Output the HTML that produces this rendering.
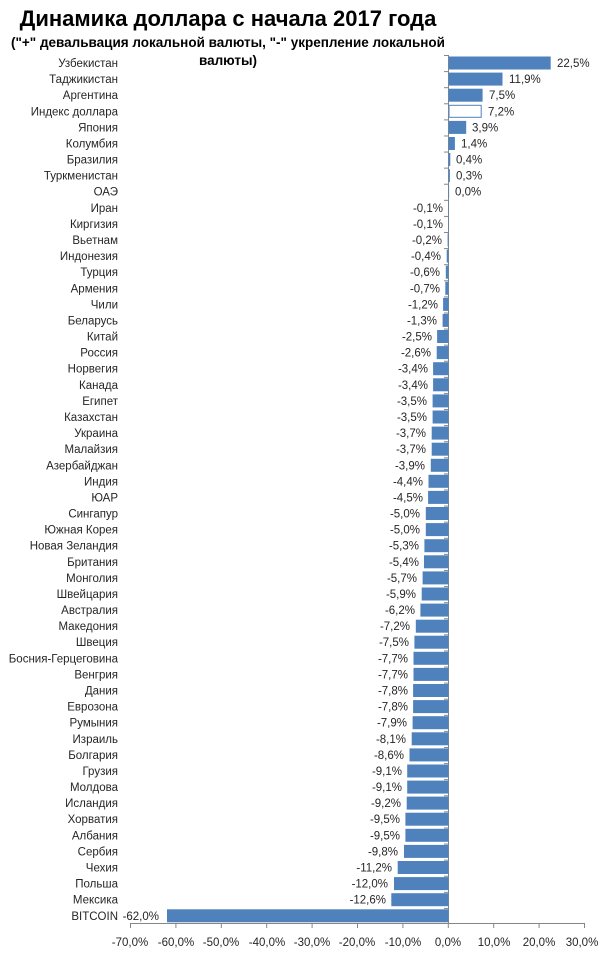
<!DOCTYPE html>
<html><head><meta charset="utf-8"><style>
body{margin:0;background:#fff}
svg{display:block}
text{font-family:"Liberation Sans",sans-serif;fill:#262626}
.c{font-size:11.5px;text-anchor:end}
.v{font-size:11.5px}
.n{font-size:11.5px;text-anchor:end}
.t{font-size:11.5px;text-anchor:middle}
rect.b{fill:#4f81bd}
</style></head><body>
<svg width="610" height="954" xmlns="http://www.w3.org/2000/svg">
<defs><pattern id="tk" patternUnits="userSpaceOnUse" x="0" y="55" width="10" height="16.093"><rect x="0" y="0" width="10" height="1" fill="#868686"/></pattern></defs>
<text x="228" y="26" style="font-size:22px;font-weight:bold;text-anchor:middle;fill:#000">Динамика доллара с начала 2017 года</text>
<text x="228" y="47" style="font-size:13.5px;font-weight:bold;text-anchor:middle;fill:#000">("+" девальвация локальной валюты, "-" укрепление локальной</text>
<text x="228" y="65" style="font-size:13.5px;font-weight:bold;text-anchor:middle;fill:#000">валюты)</text>
<rect x="444" y="55" width="4" height="868" fill="url(#tk)"/>
<g stroke="#868686" stroke-width="1">
<line x1="448.5" y1="55" x2="448.5" y2="923"/>
<line x1="130" y1="923.5" x2="584" y2="923.5"/>
<line x1="130.5" y1="923" x2="130.5" y2="928"/><line x1="175.9" y1="923" x2="175.9" y2="928"/><line x1="221.3" y1="923" x2="221.3" y2="928"/><line x1="266.7" y1="923" x2="266.7" y2="928"/><line x1="312.1" y1="923" x2="312.1" y2="928"/><line x1="357.5" y1="923" x2="357.5" y2="928"/><line x1="402.9" y1="923" x2="402.9" y2="928"/><line x1="448.3" y1="923" x2="448.3" y2="928"/><line x1="493.7" y1="923" x2="493.7" y2="928"/><line x1="539.1" y1="923" x2="539.1" y2="928"/><line x1="584.5" y1="923" x2="584.5" y2="928"/>
</g>
<g>
<text class="t" x="130" y="946">-70,0%</text><text class="t" x="176" y="946">-60,0%</text><text class="t" x="221" y="946">-50,0%</text><text class="t" x="267" y="946">-40,0%</text><text class="t" x="312" y="946">-30,0%</text><text class="t" x="357" y="946">-20,0%</text><text class="t" x="403" y="946">-10,0%</text><text class="t" x="448" y="946">0,0%</text><text class="t" x="494" y="946">10,0%</text><text class="t" x="539" y="946">20,0%</text><text class="t" x="582" y="946">30,0%</text>
</g>
<g>
<rect class="b" x="448.5" y="56.5" width="102.2" height="13"/><rect class="b" x="448.5" y="72.6" width="54" height="13"/><rect class="b" x="448.5" y="88.7" width="34.1" height="13"/><rect x="449" y="105.3" width="32.2" height="12" fill="#fff" stroke="#4f81bd"/><rect class="b" x="448.5" y="120.9" width="17.7" height="13"/><rect class="b" x="448.5" y="137" width="6.4" height="13"/><rect class="b" x="448.5" y="153" width="1.8" height="13"/><rect class="b" x="448.5" y="169.1" width="1.4" height="13"/><rect class="b" x="448.5" y="185.2" width="0.6" height="13"/>
<rect class="b" x="448" y="201.3" width="0.5" height="13"/><rect class="b" x="448" y="217.4" width="0.5" height="13"/><rect class="b" x="447.6" y="233.5" width="0.9" height="13"/><rect class="b" x="446.7" y="249.6" width="1.8" height="13"/><rect class="b" x="445.8" y="265.7" width="2.7" height="13"/><rect class="b" x="445.3" y="281.8" width="3.2" height="13"/><rect class="b" x="443.1" y="297.9" width="5.4" height="13"/><rect class="b" x="442.6" y="313.9" width="5.9" height="13"/><rect class="b" x="437.1" y="330" width="11.4" height="13"/><rect class="b" x="436.7" y="346.1" width="11.8" height="13"/><rect class="b" x="433.1" y="362.2" width="15.4" height="13"/><rect class="b" x="433.1" y="378.3" width="15.4" height="13"/><rect class="b" x="432.6" y="394.4" width="15.9" height="13"/><rect class="b" x="432.6" y="410.5" width="15.9" height="13"/><rect class="b" x="431.7" y="426.6" width="16.8" height="13"/><rect class="b" x="431.7" y="442.7" width="16.8" height="13"/><rect class="b" x="430.8" y="458.8" width="17.7" height="13"/><rect class="b" x="428.5" y="474.8" width="20" height="13"/><rect class="b" x="428.1" y="490.9" width="20.4" height="13"/><rect class="b" x="425.8" y="507" width="22.7" height="13"/><rect class="b" x="425.8" y="523.1" width="22.7" height="13"/><rect class="b" x="424.4" y="539.2" width="24.1" height="13"/><rect class="b" x="424" y="555.3" width="24.5" height="13"/><rect class="b" x="422.6" y="571.4" width="25.9" height="13"/><rect class="b" x="421.7" y="587.5" width="26.8" height="13"/><rect class="b" x="420.4" y="603.6" width="28.1" height="13"/><rect class="b" x="415.8" y="619.7" width="32.7" height="13"/><rect class="b" x="414.4" y="635.7" width="34.1" height="13"/><rect class="b" x="413.5" y="651.8" width="35" height="13"/><rect class="b" x="413.5" y="667.9" width="35" height="13"/><rect class="b" x="413.1" y="684" width="35.4" height="13"/><rect class="b" x="413.1" y="700.1" width="35.4" height="13"/><rect class="b" x="412.6" y="716.2" width="35.9" height="13"/><rect class="b" x="411.7" y="732.3" width="36.8" height="13"/><rect class="b" x="409.5" y="748.4" width="39" height="13"/><rect class="b" x="407.2" y="764.5" width="41.3" height="13"/><rect class="b" x="407.2" y="780.6" width="41.3" height="13"/><rect class="b" x="406.7" y="796.6" width="41.8" height="13"/><rect class="b" x="405.4" y="812.7" width="43.1" height="13"/><rect class="b" x="405.4" y="828.8" width="43.1" height="13"/><rect class="b" x="404" y="844.9" width="44.5" height="13"/><rect class="b" x="397.7" y="861" width="50.8" height="13"/><rect class="b" x="394" y="877.1" width="54.5" height="13"/><rect class="b" x="391.3" y="893.2" width="57.2" height="13"/><rect class="b" x="167" y="909.3" width="281.5" height="13"/>
</g>
<g>
<text class="v" x="557" y="67">22,5%</text><text class="v" x="509" y="83.1">11,9%</text><text class="v" x="489" y="99.2">7,5%</text><text class="v" x="488" y="115.3">7,2%</text><text class="v" x="472" y="131.4">3,9%</text><text class="v" x="461" y="147.5">1,4%</text><text class="v" x="456" y="163.5">0,4%</text><text class="v" x="456" y="179.6">0,3%</text><text class="v" x="455" y="195.7">0,0%</text>
<text class="n" x="443" y="211.8">-0,1%</text><text class="n" x="443" y="227.9">-0,1%</text><text class="n" x="442" y="244">-0,2%</text><text class="n" x="441" y="260.1">-0,4%</text><text class="n" x="440" y="276.2">-0,6%</text><text class="n" x="440" y="292.3">-0,7%</text><text class="n" x="438" y="308.4">-1,2%</text><text class="n" x="437" y="324.4">-1,3%</text><text class="n" x="432" y="340.5">-2,5%</text><text class="n" x="431" y="356.6">-2,6%</text><text class="n" x="428" y="372.7">-3,4%</text><text class="n" x="428" y="388.8">-3,4%</text><text class="n" x="427" y="404.9">-3,5%</text><text class="n" x="427" y="421">-3,5%</text><text class="n" x="426" y="437.1">-3,7%</text><text class="n" x="426" y="453.2">-3,7%</text><text class="n" x="425" y="469.3">-3,9%</text><text class="n" x="423" y="485.3">-4,4%</text><text class="n" x="423" y="501.4">-4,5%</text><text class="n" x="420" y="517.5">-5,0%</text><text class="n" x="420" y="533.6">-5,0%</text><text class="n" x="419" y="549.7">-5,3%</text><text class="n" x="419" y="565.8">-5,4%</text><text class="n" x="417" y="581.9">-5,7%</text><text class="n" x="416" y="598">-5,9%</text><text class="n" x="415" y="614.1">-6,2%</text><text class="n" x="410" y="630.2">-7,2%</text><text class="n" x="409" y="646.2">-7,5%</text><text class="n" x="408" y="662.3">-7,7%</text><text class="n" x="408" y="678.4">-7,7%</text><text class="n" x="408" y="694.5">-7,8%</text><text class="n" x="408" y="710.6">-7,8%</text><text class="n" x="407" y="726.7">-7,9%</text><text class="n" x="406" y="742.8">-8,1%</text><text class="n" x="404" y="758.9">-8,6%</text><text class="n" x="402" y="775">-9,1%</text><text class="n" x="402" y="791.1">-9,1%</text><text class="n" x="401" y="807.1">-9,2%</text><text class="n" x="400" y="823.2">-9,5%</text><text class="n" x="400" y="839.3">-9,5%</text><text class="n" x="398" y="855.4">-9,8%</text><text class="n" x="392" y="871.5">-11,2%</text><text class="n" x="388" y="887.6">-12,0%</text><text class="n" x="386" y="903.7">-12,6%</text><text class="n" x="159" y="919.8">-62,0%</text>
</g>
<g>
<text class="c" x="118" y="67">Узбекистан</text><text class="c" x="118" y="83.1">Таджикистан</text><text class="c" x="118" y="99.2">Аргентина</text><text class="c" x="118" y="115.3">Индекс доллара</text><text class="c" x="118" y="131.4">Япония</text><text class="c" x="118" y="147.5">Колумбия</text><text class="c" x="118" y="163.5">Бразилия</text><text class="c" x="118" y="179.6">Туркменистан</text><text class="c" x="118" y="195.7">ОАЭ</text><text class="c" x="118" y="211.8">Иран</text><text class="c" x="118" y="227.9">Киргизия</text><text class="c" x="118" y="244">Вьетнам</text><text class="c" x="118" y="260.1">Индонезия</text><text class="c" x="118" y="276.2">Турция</text><text class="c" x="118" y="292.3">Армения</text><text class="c" x="118" y="308.4">Чили</text><text class="c" x="118" y="324.4">Беларусь</text><text class="c" x="118" y="340.5">Китай</text><text class="c" x="118" y="356.6">Россия</text><text class="c" x="118" y="372.7">Норвегия</text><text class="c" x="118" y="388.8">Канада</text><text class="c" x="118" y="404.9">Египет</text><text class="c" x="118" y="421">Казахстан</text><text class="c" x="118" y="437.1">Украина</text><text class="c" x="118" y="453.2">Малайзия</text><text class="c" x="118" y="469.3">Азербайджан</text><text class="c" x="118" y="485.3">Индия</text><text class="c" x="118" y="501.4">ЮАР</text><text class="c" x="118" y="517.5">Сингапур</text><text class="c" x="118" y="533.6">Южная Корея</text><text class="c" x="118" y="549.7">Новая Зеландия</text><text class="c" x="118" y="565.8">Британия</text><text class="c" x="118" y="581.9">Монголия</text><text class="c" x="118" y="598">Швейцария</text><text class="c" x="118" y="614.1">Австралия</text><text class="c" x="118" y="630.2">Македония</text><text class="c" x="118" y="646.2">Швеция</text><text class="c" x="118" y="662.3">Босния-Герцеговина</text><text class="c" x="118" y="678.4">Венгрия</text><text class="c" x="118" y="694.5">Дания</text><text class="c" x="118" y="710.6">Еврозона</text><text class="c" x="118" y="726.7">Румыния</text><text class="c" x="118" y="742.8">Израиль</text><text class="c" x="118" y="758.9">Болгария</text><text class="c" x="118" y="775">Грузия</text><text class="c" x="118" y="791.1">Молдова</text><text class="c" x="118" y="807.1">Исландия</text><text class="c" x="118" y="823.2">Хорватия</text><text class="c" x="118" y="839.3">Албания</text><text class="c" x="118" y="855.4">Сербия</text><text class="c" x="118" y="871.5">Чехия</text><text class="c" x="118" y="887.6">Польша</text><text class="c" x="118" y="903.7">Мексика</text><text class="c" x="118" y="919.8">BITCOIN</text>
</g>
</svg>
</body></html>
